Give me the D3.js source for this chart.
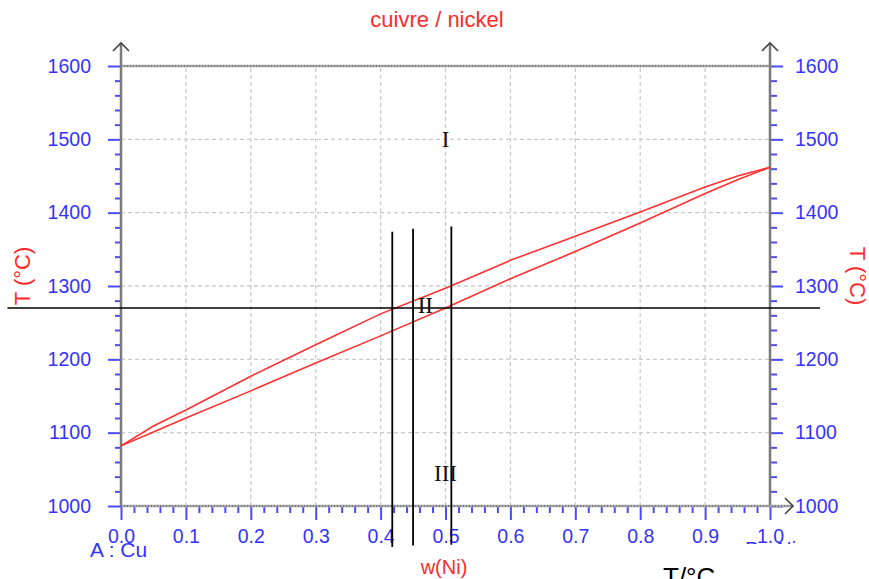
<!DOCTYPE html>
<html>
<head>
<meta charset="utf-8">
<script src="https://cdn.jsdelivr.net/npm/d3@7"></script>
<style>
  body { margin: 0; background: #fff; }
  svg { display: block; }
  .tick text { font-family: "Liberation Sans", Arial, sans-serif; fill: #3333ff; }
  .tick line { stroke: #4a4aff; stroke-width: 2; }
</style>
</head>
<body>
<div id="chart"></div>
<script>

// composition w(Ni) and the two boundary curves (T in °C)
var wNi      = [0, 0.05, 0.1, 0.2, 0.3, 0.4, 0.5, 0.6, 0.7, 0.8, 0.9, 0.95, 1.0];
var liquidus = [1082, 1109, 1131, 1177, 1220, 1262, 1297, 1335, 1368, 1401, 1435, 1450, 1462];
var solidus  = [1082, 1101, 1120, 1157, 1195, 1232, 1270, 1310, 1347, 1386, 1426, 1445, 1462];

// tick values
var xTicks = [0, 0.1, 0.2, 0.3, 0.4, 0.5, 0.6, 0.7, 0.8, 0.9, 1.0];
var yTicks = [1000, 1100, 1200, 1300, 1400, 1500, 1600];

// construction lines drawn over the diagram
var isotherm = 1270;
var verticals = [0.418, 0.45, 0.509];
var verticalTop = [1374, 1378, 1381];
var verticalBottom = [944, 946, 947];

// phase region labels
var regions = [
  { label: "I",   w: 0.5,   T: 1500 },
  { label: "II",  w: 0.469, T: 1273 },
  { label: "III", w: 0.5,   T: 1045 }
];

var svgWidth = 869, svgHeight = 579;

var svg = d3.select("#chart")
  .append("svg")
  .attr("width", svgWidth)
  .attr("height", svgHeight);

var xScale = d3.scaleLinear().domain([0, 1]).range([121, 770]);
var yScale = d3.scaleLinear().domain([1000, 1600]).range([506, 66]);

var minorX = d3.range(0, 1.0001, 0.02).filter(d => Math.abs(d * 10 - Math.round(d * 10)) > 1e-6);
var minorY = d3.range(1000, 1601, 20).filter(d => d % 100 !== 0);

// grid
var grid = svg.append("g");
grid.selectAll(".vg")
  .data(xTicks.slice(1, -1))
  .enter().append("line")
  .attr("x1", d => xScale(d)).attr("x2", d => xScale(d))
  .attr("y1", yScale(1000)).attr("y2", yScale(1600))
  .attr("stroke", "#cccccc").attr("stroke-width", 1.3)
  .attr("stroke-dasharray", "4,3");
grid.selectAll(".hg")
  .data(yTicks.slice(1, -1))
  .enter().append("line")
  .attr("x1", xScale(0)).attr("x2", xScale(1))
  .attr("y1", d => yScale(d)).attr("y2", d => yScale(d))
  .attr("stroke", "#cccccc").attr("stroke-width", 1.3)
  .attr("stroke-dasharray", "4,3");

// top border (dotted)
svg.append("line")
  .attr("x1", xScale(0)).attr("x2", xScale(1))
  .attr("y1", yScale(1600)).attr("y2", yScale(1600))
  .attr("stroke", "#aaaaaa").attr("stroke-width", 2.5);
svg.append("line")
  .attr("x1", xScale(0)).attr("x2", xScale(1))
  .attr("y1", yScale(1600)).attr("y2", yScale(1600))
  .attr("stroke", "#444").attr("stroke-width", 1)
  .attr("stroke-dasharray", "1,2");

// axes: ticks through d3 axis generators
var font = "Liberation Sans, Arial, sans-serif";

svg.append("g")
  .attr("transform", `translate(${xScale(0)},0)`)
  .call(d3.axisLeft(yScale).tickValues(yTicks).tickSize(13).tickPadding(17).tickFormat(d3.format("d")));
svg.append("g")
  .attr("transform", `translate(${xScale(0)},0)`)
  .call(d3.axisLeft(yScale).tickValues(minorY).tickSize(6).tickFormat(""));

svg.append("g")
  .attr("transform", `translate(${xScale(1)},0)`)
  .call(d3.axisRight(yScale).tickValues(yTicks).tickSize(13).tickPadding(12).tickFormat(d3.format("d")));
svg.append("g")
  .attr("transform", `translate(${xScale(1)},0)`)
  .call(d3.axisRight(yScale).tickValues(minorY).tickSize(7).tickFormat(""));

svg.append("g")
  .attr("transform", `translate(0,${yScale(1000)})`)
  .call(d3.axisBottom(xScale).tickValues(xTicks).tickSize(14).tickPadding(9).tickFormat(d3.format(".1f")));
svg.append("g")
  .attr("transform", `translate(0,${yScale(1000)})`)
  .call(d3.axisBottom(xScale).tickValues(minorX).tickSize(7).tickFormat(""));

svg.selectAll(".domain").remove();
svg.selectAll(".tick text").attr("font-size", 19.5).style("font-family", font);

// axis lines
var axisColor = "#7a7a7a";
svg.append("line")
  .attr("x1", xScale(0)).attr("x2", xScale(0))
  .attr("y1", yScale(1000)).attr("y2", 43)
  .attr("stroke", axisColor).attr("stroke-width", 2.5);
svg.append("line")
  .attr("x1", xScale(1)).attr("x2", xScale(1))
  .attr("y1", yScale(1000)).attr("y2", 43)
  .attr("stroke", axisColor).attr("stroke-width", 2.5);
svg.append("line")
  .attr("x1", xScale(0)).attr("x2", 793)
  .attr("y1", yScale(1000)).attr("y2", yScale(1000))
  .attr("stroke", "#aaaaaa").attr("stroke-width", 2.5);
svg.append("line")
  .attr("x1", xScale(0)).attr("x2", 793)
  .attr("y1", yScale(1000)).attr("y2", yScale(1000))
  .attr("stroke", "#444").attr("stroke-width", 1)
  .attr("stroke-dasharray", "1,2");

// arrow heads
function chevron(points) {
  svg.append("polyline")
    .attr("points", points.map(p => p.join(",")).join(" "))
    .attr("fill", "none").attr("stroke", "#444").attr("stroke-width", 1.6);
}
chevron([[xScale(0) - 8, 51], [xScale(0), 43], [xScale(0) + 8, 51]]);
chevron([[xScale(1) - 8, 51], [xScale(1), 43], [xScale(1) + 8, 51]]);
chevron([[785, yScale(1000) - 8], [793, yScale(1000)], [785, yScale(1000) + 8]]);

// curves
var line = d3.line()
  .x((d, i) => xScale(wNi[i]))
  .y(d => yScale(d));

svg.append("path").datum(liquidus)
  .attr("d", line).attr("fill", "none")
  .attr("stroke", "#ff3030").attr("stroke-width", 1.6);
svg.append("path").datum(solidus)
  .attr("d", line).attr("fill", "none")
  .attr("stroke", "#ff3030").attr("stroke-width", 1.6);

// construction lines
svg.append("line")
  .attr("x1", xScale(-0.175)).attr("x2", xScale(1.077))
  .attr("y1", yScale(isotherm)).attr("y2", yScale(isotherm))
  .attr("stroke", "#000").attr("stroke-width", 1.6);
svg.selectAll(".vl")
  .data(verticals)
  .enter().append("line")
  .attr("x1", d => xScale(d)).attr("x2", d => xScale(d))
  .attr("y1", (d, i) => yScale(verticalTop[i]))
  .attr("y2", (d, i) => yScale(verticalBottom[i]))
  .attr("stroke", "#000").attr("stroke-width", 1.8);

// region labels
svg.selectAll(".region")
  .data(regions)
  .enter().append("text")
  .attr("x", d => xScale(d.w))
  .attr("y", d => yScale(d.T))
  .attr("text-anchor", "middle")
  .attr("dominant-baseline", "central")
  .attr("font-family", "Liberation Serif, Times New Roman, serif")
  .attr("font-size", 23)
  .attr("fill", "#111")
  .text(d => d.label);

// titles
svg.append("text")
  .attr("x", 437).attr("y", 27)
  .attr("text-anchor", "middle")
  .attr("font-family", font).attr("font-size", 22)
  .attr("fill", "#ff2a2a")
  .text("cuivre / nickel");

svg.append("text")
  .attr("transform", "translate(30,276) rotate(-90)")
  .attr("text-anchor", "middle")
  .attr("font-family", font).attr("font-size", 22)
  .attr("fill", "#ff2a2a")
  .text("T (°C)");

svg.append("text")
  .attr("transform", "translate(850,276) rotate(90)")
  .attr("text-anchor", "middle")
  .attr("font-family", font).attr("font-size", 22)
  .attr("fill", "#ff2a2a")
  .text("T (°C)");

svg.append("text")
  .attr("x", 444).attr("y", 574)
  .attr("text-anchor", "middle")
  .attr("font-family", font).attr("font-size", 20)
  .attr("fill", "#ff2a2a")
  .text("w(Ni)");

svg.append("text")
  .attr("x", 90).attr("y", 557)
  .attr("font-family", font).attr("font-size", 21)
  .attr("fill", "#3333ff")
  .text("A : Cu");

// B label is almost hidden under the axis labels in the original
svg.append("clipPath").attr("id", "bclip")
  .append("rect").attr("x", 700).attr("y", 530).attr("width", 160).attr("height", 14);
svg.append("text")
  .attr("x", 745).attr("y", 556)
  .attr("clip-path", "url(#bclip)")
  .attr("font-family", font).attr("font-size", 21)
  .attr("fill", "#3333ff")
  .text("B : Ni");

svg.append("text")
  .attr("x", 663).attr("y", 586)
  .attr("font-family", font).attr("font-size", 26)
  .attr("fill", "#000")
  .text("T/°C");

</script>
</body>
</html>
